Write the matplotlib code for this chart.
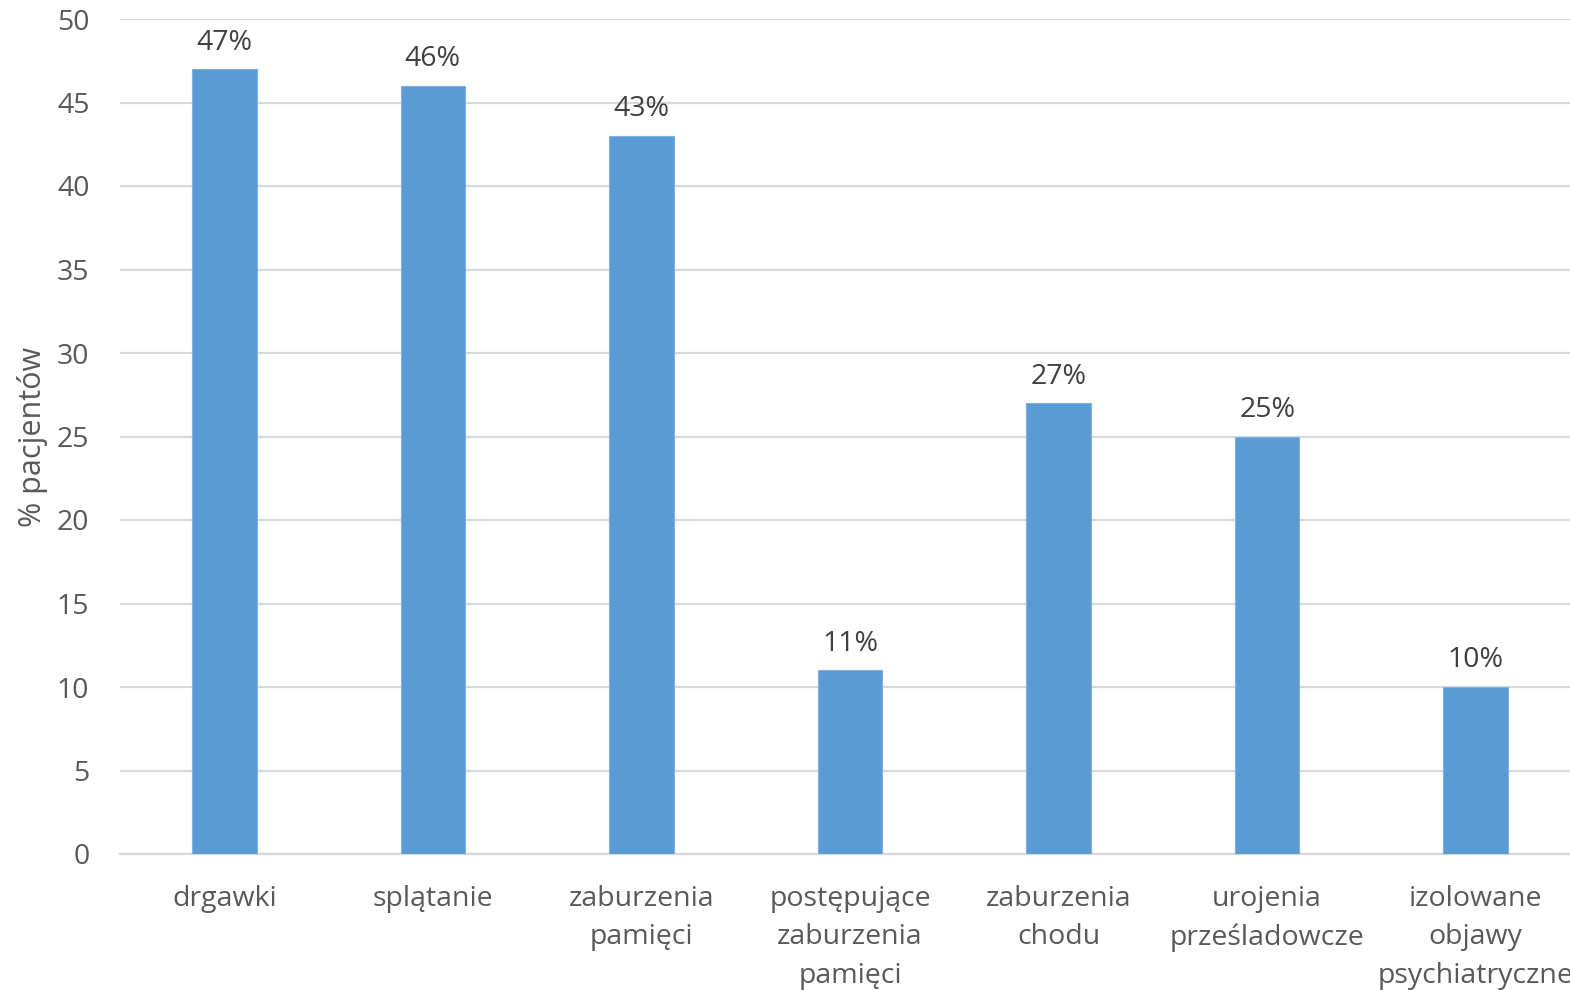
import matplotlib.pyplot as plt

plt.rcParams['font.family'] = ['Open Sans', 'DejaVu Sans']

categories = ['drgawki', 'splątanie', 'zaburzenia\npamięci',
              'postępujące\nzaburzenia\npamięci', 'zaburzenia\nchodu',
              'urojenia\nprześladowcze', 'izolowane\nobjawy\npsychiatryczne']
values = [47, 46, 43, 11, 27, 25, 10]
labels = ['47%', '46%', '43%', '11%', '27%', '25%', '10%']
yticks = [0, 5, 10, 15, 20, 25, 30, 35, 40, 45, 50]

fig = plt.figure(figsize=(15.7, 9.9), dpi=100)
ax = fig.add_axes([120 / 1570, 1 - 854 / 990, 1460 / 1570, 835 / 990])

x = range(len(categories))
ax.bar(x, values, width=0.31, color='#5B9BD5', edgecolor='#7FB2E0', linewidth=0.8, zorder=3)
for i, v in enumerate(values):
    ax.text(i, v + 0.75, labels[i], ha='center', va='bottom', fontsize=20.5, color='#404040')

ax.set_xlim(-0.5, len(categories) - 0.5)
ax.set_ylim(0, 50)
ax.set_yticks(yticks)
ax.yaxis.grid(True, color='#D9D9D9', linewidth=1.6, zorder=0)
ax.set_xticks(list(x))
ax.set_xticklabels(categories, fontsize=20.5, color='#595959', linespacing=1.52)
ax.tick_params(axis='y', labelsize=20.5, labelcolor='#595959', length=0, pad=22)
ax.tick_params(axis='x', length=0, pad=22)
for s in ['top', 'right', 'left']:
    ax.spines[s].set_visible(False)
ax.spines['bottom'].set_color('#D9D9D9')
ax.spines['bottom'].set_linewidth(1.6)
ax.set_ylabel('% pacjentów', fontsize=22, color='#595959')
ax.yaxis.set_label_coords(-72 / 1460, 0.5)

fig.savefig('out.png', dpi=100)
